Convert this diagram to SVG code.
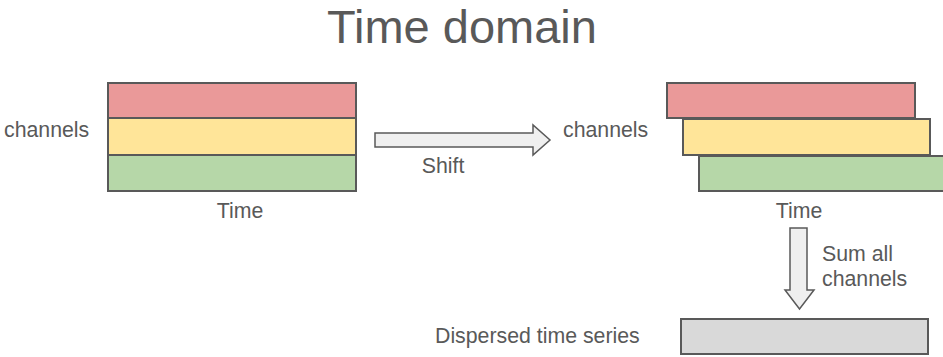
<svg xmlns="http://www.w3.org/2000/svg" width="943" height="357" viewBox="0 0 943 357">
  <style>
    text { font-family: "Liberation Sans", Arial, sans-serif; fill: #595959; }
    .lbl { font-size: 21.3px; }
    .title { font-size: 47px; }
    .bar { stroke: #595959; stroke-width: 2; }
    .red { fill: #ea9999; }
    .yellow { fill: #ffe599; }
    .green { fill: #b6d7a8; }
    .gray { fill: #d9d9d9; }
    .arrow { fill: #efefef; stroke: #595959; stroke-width: 1.5; stroke-linejoin: miter; }
  </style>
  <rect width="943" height="357" fill="#ffffff"/>

  <text class="title" x="462" y="43" text-anchor="middle">Time domain</text>

  <!-- aligned channels -->
  <g id="channels-aligned">
    <rect class="bar red" x="108" y="83" width="248" height="35"/>
    <rect class="bar yellow" x="108" y="118" width="248" height="37"/>
    <rect class="bar green" x="108" y="155" width="248" height="36"/>
    <text class="lbl" x="4" y="137">channels</text>
    <text class="lbl" x="240" y="218" text-anchor="middle">Time</text>
  </g>

  <!-- shifted channels -->
  <g id="channels-shifted">
    <rect class="bar red" x="667" y="83" width="248" height="35"/>
    <rect class="bar yellow" x="683" y="119" width="247" height="36"/>
    <rect class="bar green" x="699" y="156" width="250" height="35"/>
    <text class="lbl" x="563" y="137">channels</text>
    <text class="lbl" x="799" y="218" text-anchor="middle">Time</text>
  </g>

  <!-- summed series -->
  <g id="dispersed-series">
    <rect class="bar gray" x="681" y="319" width="247" height="35"/>
    <text class="lbl" x="435" y="343">Dispersed time series</text>
  </g>

  <!-- block arrows -->
  <g id="connectors">
    <g id="shift-arrow">
      <path class="arrow" d="M375,133 H533 V125 L550,140 L533,155 V147 H375 Z"/>
      <text class="lbl" x="443" y="173" text-anchor="middle">Shift</text>
    </g>
    <g id="sum-arrow">
      <path class="arrow" d="M790,228 H807 V290 H814 L799.5,309 L785,290 H790 Z"/>
      <text class="lbl" x="822" y="261">Sum all</text>
      <text class="lbl" x="822" y="286">channels</text>
    </g>
  </g>
</svg>
